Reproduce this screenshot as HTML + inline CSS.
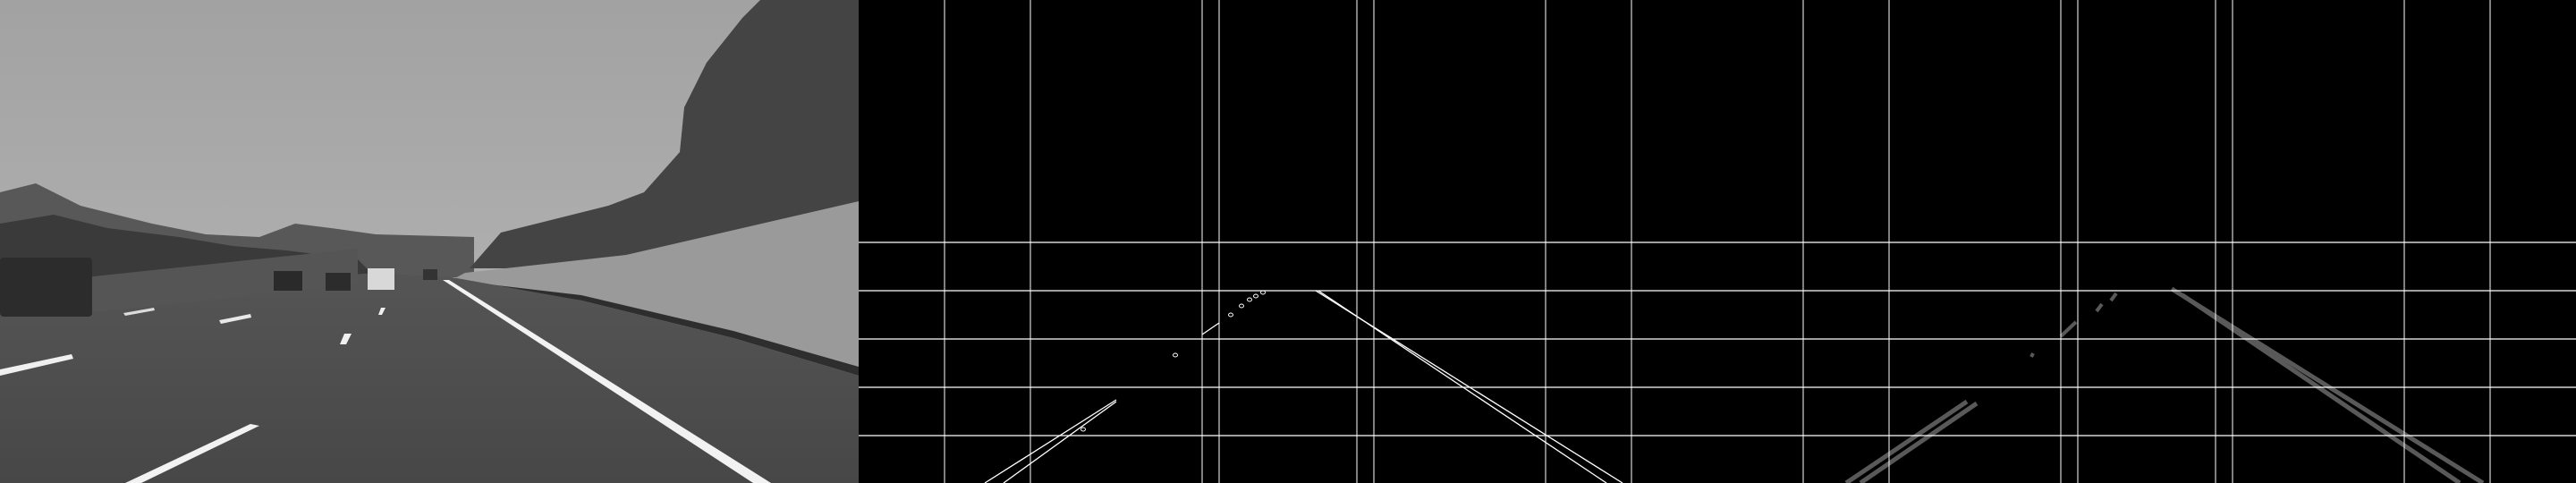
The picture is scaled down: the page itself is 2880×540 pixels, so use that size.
<!DOCTYPE html>
<html><head><meta charset="utf-8"><style>
html,body{margin:0;padding:0;background:#000;width:2880px;height:540px;overflow:hidden}
svg{display:block}
</style></head><body>
<svg id="root" width="2880" height="540" viewBox="0 0 2880 540">
 <g id="photo">
  <defs>
   <linearGradient id="sky" x1="0" y1="0" x2="0" y2="1"><stop offset="0" stop-color="#a2a2a2"/><stop offset="1" stop-color="#b8b8b8"/></linearGradient>
   <linearGradient id="road" x1="0" y1="0" x2="0" y2="1"><stop offset="0" stop-color="#555"/><stop offset="1" stop-color="#474747"/></linearGradient>
  </defs>
  <rect x="0" y="0" width="960" height="540" fill="url(#sky)"/>
  <path d="M0,215 L40,205 L90,230 L170,250 L230,262 L290,265 L330,250 L370,255 L420,262 L530,265 L530,310 L0,310 Z" fill="#585858"/>
  <path d="M0,250 L60,240 L120,255 L200,265 L260,275 L320,280 L400,290 L420,310 L0,320 Z" fill="#3a3a3a"/>
  <path d="M525,300 L560,260 L600,250 L640,240 L680,230 L720,215 L760,170 L765,120 L790,70 L830,20 L850,0 L960,0 L960,240 L800,270 L700,290 L600,300 Z" fill="#444"/>
  <path d="M520,305 L700,285 L960,225 L960,410 L820,370 L650,330 L505,313 Z" fill="#9a9a9a"/>
  <path d="M505,313 L650,330 L820,370 L960,410 L960,420 L820,378 L650,336 Z" fill="#2e2e2e"/>
  <path d="M0,338 L420,305 L505,310 L650,336 L820,378 L960,420 L960,540 L0,540 Z" fill="url(#road)"/>
  <rect x="100" y="320" width="300" height="40" fill="#555" transform="skewY(-6)"/>
  <rect x="0" y="288" width="103" height="66" rx="4" fill="#2c2c2c"/>
  <rect x="306" y="303" width="32" height="22" fill="#2a2a2a"/>
  <rect x="364" y="305" width="28" height="20" fill="#2c2c2c"/>
  <rect x="411" y="300" width="30" height="24" fill="#d8d8d8"/>
  <rect x="473" y="301" width="16" height="12" fill="#333"/>
  <polygon points="495,313 502,313 862,540 842,540" fill="#f2f2f2"/>
  <polygon points="280,474 290,476 158,540 140,540" fill="#f2f2f2"/>
  <polygon points="0,413 80,396 82,401 0,420" fill="#f0f0f0"/>
  <polygon points="385,373 393,373 387,385 380,385" fill="#f0f0f0"/>
  <polygon points="245,358 280,351 281,355 247,362" fill="#e8e8e8"/>
  <polygon points="426,344 431,344 427,352 423,352" fill="#f0f0f0"/>
  <polygon points="138,350 172,344 173,347 140,353" fill="#dcdcdc"/>
 </g>
 <g id="edges" transform="translate(960,0)"></g>
 <g id="hough" transform="translate(1920,0)"></g>
</svg>
<script>
const NS="http://www.w3.org/2000/svg";
const gridX=[96,192,384,403,557,576,768,864];
const gridY=[271,325,379,433,487];
// lane segments: x1,y1,x2,y2 (panel-relative)
const edgeSegsX1=[141,162,511,514,384];
const edgeSegsY1=[540,540,325,325,374];
const edgeSegsX2=[288,288,854,836,403];
const edgeSegsY2=[447,449,540,540,361];
const dotX=[416,428,437,444,452,354,251];
const dotY=[352,342,335,331,327,397,480];
const houghX1=[144,160,508,520,384,424,440,351];
const houghY1=[540,540,323,330,376,348,336,399];
const houghX2=[279,290,856,830,401,430,446,353];
const houghY2=[449,451,540,540,360,340,328,395];
function grid(g){
 gridX.forEach(x=>{const l=document.createElementNS(NS,'line');
  l.setAttribute('x1',x);l.setAttribute('x2',x);l.setAttribute('y1',0);l.setAttribute('y2',540);
  l.setAttribute('stroke','#fff');l.setAttribute('stroke-width',1);
  
  
  g.appendChild(l);});
 gridY.forEach(y=>{const l=document.createElementNS(NS,'line');
  l.setAttribute('x1',0);l.setAttribute('x2',960);l.setAttribute('y1',y);l.setAttribute('y2',y);
  l.setAttribute('stroke','#fff');l.setAttribute('stroke-width',1.2);
  
  
  g.appendChild(l);});
}
const eg=document.getElementById('edges'),hg=document.getElementById('hough');
grid(eg);grid(hg);
edgeSegsX1.forEach((x,i)=>{const l=document.createElementNS(NS,'line');
 l.setAttribute('x1',x);l.setAttribute('y1',edgeSegsY1[i]);l.setAttribute('x2',edgeSegsX2[i]);l.setAttribute('y2',edgeSegsY2[i]);
 l.setAttribute('stroke','#fff');l.setAttribute('stroke-width',1.3);
 
 
 eg.appendChild(l);});
dotX.forEach((x,i)=>{const c=document.createElementNS(NS,'ellipse');
 c.setAttribute('cx',x);c.setAttribute('cy',dotY[i]);c.setAttribute('rx',2.5);c.setAttribute('ry',2);
 c.setAttribute('fill','none');c.setAttribute('stroke','#fff');c.setAttribute('stroke-width',1);
 
 
 eg.appendChild(c);});
houghX1.forEach((x,i)=>{const l=document.createElementNS(NS,'line');
 l.setAttribute('x1',x);l.setAttribute('y1',houghY1[i]);l.setAttribute('x2',houghX2[i]);l.setAttribute('y2',houghY2[i]);
 l.setAttribute('stroke','#595959');l.setAttribute('stroke-width',i>=4?4:5);
 
 
 hg.insertBefore(l,hg.firstChild);});
</script>
</body></html>
